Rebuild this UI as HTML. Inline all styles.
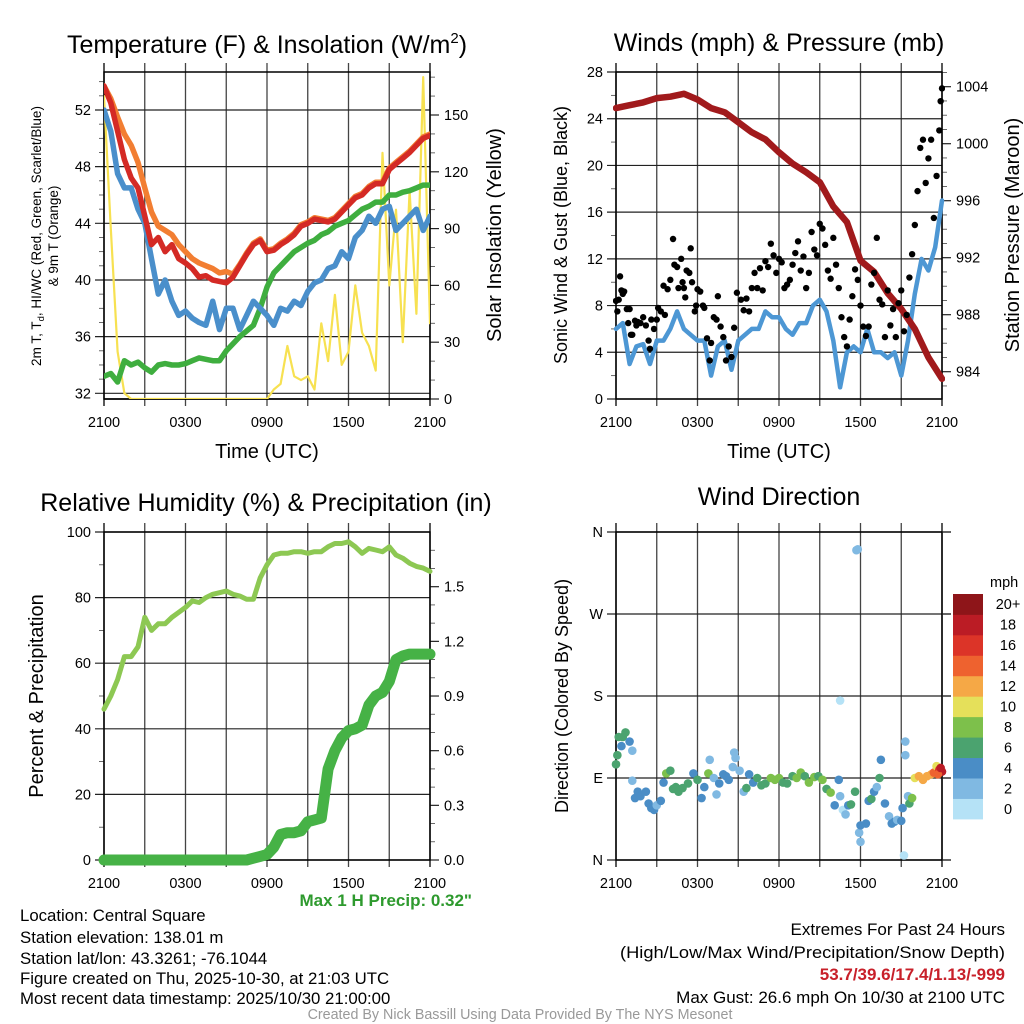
<!DOCTYPE html>
<html><head><meta charset="utf-8"><style>
html,body{margin:0;padding:0;background:#fff;}
svg{display:block;font-family:"Liberation Sans",sans-serif;}
</style></head><body>
<svg id="chart" width="1024" height="1024" viewBox="0 0 1024 1024" xmlns="http://www.w3.org/2000/svg">
<rect width="1024" height="1024" fill="#fff"/>
<g id="p1"></g>
<g id="p2"></g>
<g id="p3"></g>
<g id="p4"></g>
<text x="267" y="53" font-size="25" text-anchor="middle">Temperature (F) &amp; Insolation (W/m<tspan font-size="15" dy="-10">2</tspan><tspan dy="10">)</tspan></text>
<text x="779" y="51" font-size="25" text-anchor="middle">Winds (mph) &amp; Pressure (mb)</text>
<text x="266" y="511" font-size="25" text-anchor="middle">Relative Humidity (%) &amp; Precipitation (in)</text>
<text x="779" y="505" font-size="25" text-anchor="middle">Wind Direction</text>
<text x="267" y="458" font-size="20" text-anchor="middle">Time (UTC)</text>
<text x="779" y="458" font-size="20" text-anchor="middle">Time (UTC)</text>
<text font-size="13.5" text-anchor="middle" transform="translate(41,236) rotate(-90)">2m T, T<tspan font-size="9.5" dy="3">d</tspan><tspan dy="-3">, HI/WC (Red, Green, Scarlet/Blue)</tspan></text>
<text font-size="13.5" text-anchor="middle" transform="translate(58,236) rotate(-90)">&amp; 9m T (Orange)</text>
<text font-size="20" text-anchor="middle" transform="translate(501,235) rotate(-90)">Solar Insolation (Yellow)</text>
<text font-size="18" text-anchor="middle" transform="translate(567,235) rotate(-90)">Sonic Wind &amp; Gust (Blue, Black)</text>
<text font-size="20" text-anchor="middle" transform="translate(1019,235) rotate(-90)">Station Pressure (Maroon)</text>
<text font-size="20" text-anchor="middle" transform="translate(43,696) rotate(-90)">Percent &amp; Precipitation</text>
<text font-size="18" text-anchor="middle" transform="translate(568,696) rotate(-90)">Direction (Colored By Speed)</text>
<text x="472" y="906" font-size="17" font-weight="bold" fill="#2e9a2e" text-anchor="end">Max 1 H Precip: 0.32"</text>
<g font-size="16.8">
<text x="20" y="921">Location: Central Square</text>
<text x="20" y="943">Station elevation: 138.01 m</text>
<text x="20" y="964">Station lat/lon: 43.3261; -76.1044</text>
<text x="20" y="984">Figure created on Thu, 2025-10-30, at 21:03 UTC</text>
<text x="20" y="1004">Most recent data timestamp: 2025/10/30 21:00:00</text>
</g>
<g font-size="17" text-anchor="end">
<text x="1005" y="935">Extremes For Past 24 Hours</text>
<text x="1005" y="958" textLength="385" lengthAdjust="spacingAndGlyphs" x-start="620">(High/Low/Max Wind/Precipitation/Snow Depth)</text>
<text x="1005" y="980" font-weight="bold" fill="#c8202a">53.7/39.6/17.4/1.13/-999</text>
<text x="1005" y="1003">Max Gust: 26.6 mph On 10/30 at 2100 UTC</text>
</g>
<text x="520" y="1019" font-size="14.3" fill="#999" text-anchor="middle">Created By Nick Bassill Using Data Provided By The NYS Mesonet</text>
</svg>
<script>
const halfHours = [0,0.5,1,1.5,2,2.5,3,3.5,4,4.5,5,5.5,6,6.5,7,7.5,8,8.5,9,9.5,10,10.5,11,11.5,12,12.5,13,13.5,14,14.5,15,15.5,16,16.5,17,17.5,18,18.5,19,19.5,20,20.5,21,21.5,22,22.5,23,23.5,24];
const tempRed = [53.7,52.5,50.5,48.5,47.2,46.5,44.5,42.5,43,42,42.5,41.5,41.2,40.8,40.2,40.3,40,39.9,39.8,40.2,41,41.8,42.5,42.8,42,42.1,42.5,42.8,43.2,43.8,44,44.3,44.2,44.1,44.3,44.8,45.3,45.8,46,46.5,46.8,46.8,47.8,48.2,48.6,49,49.5,50,50.2];
const temp9m = [53.7,52.8,51.5,50.3,49.5,48.3,46.5,44.8,43.8,43.5,43.2,42.5,42,41.5,41.2,41,40.8,40.5,40.6,40.4,41.1,41.9,42.6,42.9,42.1,42.2,42.6,42.9,43.3,43.9,44.1,44.4,44.3,44.2,44.4,44.9,45.4,45.9,46.1,46.6,46.9,46.9,47.9,48.3,48.7,49.1,49.6,50.1,50.3];
const windChill = [52,50.5,47.5,46.5,46.5,45,44,41.5,39,40,38.5,37.5,37.8,37.3,37,36.8,38.5,36.5,38,38,36.5,37.5,38.5,38,37.5,36.8,38,37.8,38.5,38.2,39.2,39.8,40,40.8,41,42,41.5,43,43.5,44.5,44,45,45.2,43.5,44,44.5,45,43.5,44.5];
const dewPoint = [33.2,33.4,32.8,34.3,34,34.2,33.8,33.5,34,34.1,34,34,34.1,34.3,34.5,34.4,34.3,34.3,35,35.5,36,36.4,36.8,38,39.5,40.5,41,41.5,42,42.3,42.6,42.8,43.2,43.4,43.8,44,44.2,44.6,45,45.2,45.5,45.5,46,46,46.2,46.3,46.5,46.7,46.7];
const insolation = [160,90,25,3,0,0,0,0,0,0,0,0,0,0,0,0,0,0,0,0,0,0,0,0,0,5,8,28,12,10,12,5,40,20,55,18,25,60,35,28,15,130,60,100,30,110,45,170,40];
const windSpeed = [6,6.5,3,4.5,4.7,3,5,5,6,7.5,6,5.5,5,5,2,4.5,5,2.5,5,5.5,6,6,7.5,7,7,6,5.5,6.5,6.5,8,8.5,7.5,5,1,4,4.5,4,6,4,4,3.5,4,2,5,9,12,11,13,17];
const relHumidity = [46,50,55,62,62,65,74,70,72,72,74,75.5,77,79,78.5,80,81,81.5,82,81,80.5,79.5,79.5,86,90,93,93.5,93.5,94,94,93.5,94,94,95.5,96.5,96.5,97,95.5,93.5,95,94.5,94,95.5,93,92,90.5,89.5,89,88];
const precipTotal = [0,0,0,0,0,0,0,0,0,0,0,0,0,0,0,0,0,0,0,0,0,0,0.01,0.02,0.03,0.07,0.14,0.15,0.15,0.16,0.21,0.22,0.23,0.5,0.6,0.67,0.71,0.72,0.74,0.85,0.9,0.92,0.98,1.1,1.12,1.13,1.13,1.13,1.13];
const hourly = [0,1,2,3,4,5,6,7,8,9,10,11,12,13,14,15,16,17,18,19,20,21,22,23,24];
const pressure = [1002.5,1002.7,1002.9,1003.2,1003.3,1003.5,1003.1,1002.5,1002.2,1001.5,1000.8,1000.3,999.4,998.6,998.0,997.3,995.6,994.5,991.8,991.0,989.5,988.4,987.0,985.0,983.5];
const gustHours = [0,0.1,0.2,0.3,0.4,0.5,0.6,0.8,0.9,1.0,1.1,1.2,1.4,1.5,1.6,1.8,2.0,2.2,2.4,2.5,2.6,2.8,3.0,3.1,3.3,3.5,3.6,3.8,4.0,4.2,4.3,4.5,4.6,4.8,4.9,5.0,5.1,5.2,5.4,5.5,5.6,5.8,5.9,6.0,6.2,6.4,6.5,6.7,6.9,7.0,7.2,7.4,7.5,7.7,7.9,8.1,8.3,8.5,8.7,8.9,9.2,9.4,9.6,9.8,10,10.2,10.4,10.6,10.8,11,11.2,11.4,11.6,11.8,12,12.2,12.4,12.6,12.8,13,13.2,13.4,13.6,13.8,14,14.2,14.4,14.6,14.8,15,15.2,15.4,15.6,15.8,16,16.2,16.4,16.6,16.8,17,17.2,17.4,17.6,17.8,18,18.2,18.4,18.6,18.8,19.0,19.2,19.4,19.6,19.8,20,20.2,20.4,20.6,20.8,21,21.2,21.4,21.6,21.8,22,22.2,22.4,22.6,22.8,23,23.2,23.4,23.6,23.8,23.9,24];
const gustValues = [8.4,7.5,8.5,10.5,9.3,9,9.2,7.7,6.5,7.7,5.5,5.5,6.7,6.3,6.6,6.5,7,6.3,5,4.3,6.8,6,6.8,7.8,7.5,9.7,7.2,9.4,10.2,13.7,11.5,11.3,9.5,12,10,9.5,8.7,11,10.8,12.9,10,7.5,8,9.4,9.2,8,7.8,5.2,3.3,4.8,7,6.8,8.8,6.2,5.3,3.3,4.5,3.6,6.1,9.1,8.5,7.6,8.6,7.5,9.5,10.8,9.5,11.2,9.3,11.8,11.3,13.3,12.3,10.8,12,11.7,9.5,9.8,10.2,11.5,12.5,13.5,11,12.2,9.5,10.8,14.3,12.8,12.3,15,14.6,13.2,11,10.3,13.8,11.5,9.5,7,5.3,4.5,6.8,8.8,11.1,10.2,8,6.2,5.4,6.2,9.8,10.8,13.8,8.5,8.1,5.3,9.3,6.3,7.7,5.3,8.2,9.3,5.8,7.2,10.4,12.4,14.9,17.8,21.5,22.2,18.5,20.6,22.2,15.5,19.1,23,25.5,26.6];
const dirHours = [0,0.1,0.2,0.5,0.7,0.4,1.0,1.2,1.2,1.4,1.6,1.8,2.2,2.4,2.6,2.8,3.0,3.3,3.5,3.7,4.0,4.2,4.4,4.6,4.9,5.3,5.7,6.0,6.3,6.5,6.8,6.9,7.2,7.4,7.6,7.9,8.1,8.3,8.6,8.7,8.8,9.1,9.4,9.6,9.8,10.1,10.4,10.7,11.0,11.4,11.7,12.0,12.3,12.6,13.0,13.3,13.6,13.9,14.2,14.6,14.9,15.2,15.5,15.8,16.1,16.4,16.5,16.7,16.9,17.1,17.3,17.6,17.9,18.0,18.0,17.7,17.8,16.5,18.4,18.6,18.8,19.0,19.2,19.4,19.5,19.8,20.1,20.3,20.5,20.7,21.0,21.1,21.3,21.3,21.5,21.2,21.6,21.8,22.0,22.3,22.6,22.9,23.2,23.4,23.6,23.8,24,23.7,23.9];
const dirDegrees = [105,115,135,135,140,125,130,120,87,68,75,70,75,62,57,55,60,65,85,95,98,78,80,75,79,84,95,88,68,80,95,110,90,72,84,94,92,88,102,118,112,98,75,79,94,85,90,82,84,90,88,90,85,84,92,90,96,92,85,91,92,88,78,74,60,88,70,55,50,60,61,75,30,38,20,340,341,175,40,65,67,75,80,90,110,62,48,40,42,44,43,57,130,115,70,5,62,68,90,92,88,92,94,96,103,99,97,94,101];
const dirSpeeds = [6,6,6,6,6,4,4,3,2,4,4,4,4,4,4,4,2,4,4,8,6,6,6,6,6,6,4,6,4,4,8,2,2,2,4,4,4,4,2,2,2,2,2,6,4,4,6,6,6,8,8,8,6,6,6,8,8,6,8,8,6,8,6,8,4,4,2,0,2,4,6,6,2,4,2,2,2,0,4,4,6,4,2,6,4,4,2,4,4,2,4,4,2,2,2,0,6,8,10,12,12,12,12,14,10,16,18,14,18];
const timeTicks = ["2100","0300","0900","1500","2100"];
const tempTicks = [32,36,40,44,48,52];
const solarTicks = [0,30,60,90,120,150];
const windTicks = [0,4,8,12,16,20,24,28];
const pressTicks = [984,988,992,996,1000,1004];
const rhTicks = [0,20,40,60,80,100];
const precipTicks = ["0.0","0.3","0.6","0.9","1.2","1.5"];
const dirTicks = ["N","E","S","W","N"];
const speedLabels = ["0","2","4","6","8","10","12","14","16","18","20+"];
const speedColors = ["#b5e2f6","#80b9e2","#4a8dc6","#4ba36f","#7dc04b","#e5e05a","#f5a846","#ee622f","#dc3428","#bb1c25","#8e1519"];

const NS="http://www.w3.org/2000/svg";
function mk(parent,tag,attrs){const e=document.createElementNS(NS,tag);for(const k in attrs)e.setAttribute(k,attrs[k]);parent.appendChild(e);return e;}
function lin(d0,d1,r0,r1){return v=>r0+(v-d0)/(d1-d0)*(r1-r0);}

function frame(g,x0,x1,y0,y1,hgrid,leftTicks,leftVals,rightTicks,rightVals,rightScale,leftScale,minorL,minorR){
  const xs=lin(0,24,x0,x1);
  for(let i=0;i<=8;i++){const x=xs(i*3);
    const l=mk(g,'line',{x1:x,x2:x,y1:y0-9,y2:y1+7,stroke:i==0||i==8?'#000':'#444','stroke-width':1.3});
    
    
  }
  leftVals.forEach((v,i)=>{const y=leftScale(v);
    const l=mk(g,'line',{x1:x0-9,x2:rightTicks?x1:x1+9,y1:y,y2:y,stroke:'#222','stroke-width':1.2});
    
    
    const t=mk(g,'text',{x:x0-13,y:y+5,'font-size':14.5,'text-anchor':'end'});t.textContent=leftTicks[i];
    
    
  });
  if(minorL){minorL.forEach(v=>{const y=leftScale(v);mk(g,'line',{x1:x0-5,x2:x0,y1:y,y2:y,stroke:'#444','stroke-width':0.8});});}
  if(rightTicks){rightVals.forEach((v,i)=>{const y=rightScale(v);
    mk(g,'line',{x1:x1,x2:x1+9,y1:y,y2:y,stroke:'#222','stroke-width':1.2});
    const t=mk(g,'text',{x:x1+14,y:y+5,'font-size':14.5});t.textContent=rightTicks[i];
    
    
  });
  if(minorR){minorR.forEach(v=>{const y=rightScale(v);mk(g,'line',{x1:x1,x2:x1+5,y1:y,y2:y,stroke:'#444','stroke-width':0.8});});}}
  mk(g,'rect',{x:x0,y:y0,width:x1-x0,height:y1-y0,fill:'none',stroke:'#000','stroke-width':1.5});
  timeTicks.forEach((s,i)=>{const t=mk(g,'text',{x:xs(i*6),y:y1+28,'font-size':14.5,'text-anchor':'middle'});t.textContent=s;
    
    });
  return xs;
}
function line(g,xs,ys,hs,vals,color,w,name){
  const d=hs.map((h,i)=>(i?'L':'M')+xs(h).toFixed(1)+','+ys(vals[i]).toFixed(1)).join('');
  const p=mk(g,'path',{d:d,fill:'none',stroke:color,'stroke-width':w,'stroke-linejoin':'round','stroke-linecap':'round'});
  
  
  return p;
}
function range(a,b,s){const r=[];for(let v=a;v<=b+1e-9;v+=s)r.push(+v.toFixed(3));return r;}

// Panel 1
const g1=document.getElementById('p1');
const t1=lin(32,52,393.3,110); const s1=lin(0,150,399,115);
const x1s=frame(g1,104,430,72,399,null,tempTicks,tempTicks,solarTicks,solarTicks,s1,t1,range(33,54,1).filter(v=>v%4),range(10,170,10).filter(v=>v%30));
mk(g1,'line',{x1:104,x2:430,y1:399,y2:399,stroke:'#000','stroke-width':1.5});
mk(mk(g1,'clipPath',{id:'c1'}),'rect',{x:104,y:72,width:326,height:327});
const d1=mk(g1,'g',{'clip-path':'url(#c1)'});
line(d1,x1s,s1,halfHours,insolation,'#f7e151',2.2,'insolation-line');
line(d1,x1s,t1,halfHours,dewPoint,'#3fae3f',5.5,'dewpoint-line');
line(d1,x1s,t1,halfHours,windChill,'#4a8fcb',5.5,'windchill-line');
line(d1,x1s,t1,halfHours,temp9m,'#f27e32',5.5,'temp-9m-line');
line(d1,x1s,t1,halfHours,tempRed,'#d42a25',5.5,'temp-2m-line');

// Panel 2
const g2=document.getElementById('p2');
const w2=lin(0,28,399,72); const p2=lin(984,1004,371.7,86.7);
const x2s=frame(g2,616,942,72,399,null,windTicks,windTicks,pressTicks,pressTicks,p2,w2,range(2,26,4),range(983,1005,1).filter(v=>v%4));
mk(mk(g2,'clipPath',{id:'c2'}),'rect',{x:613,y:69,width:332,height:333});
const d2=mk(g2,'g',{'clip-path':'url(#c2)'});
line(d2,x2s,w2,halfHours,windSpeed,'#4d97d4',4.5,'wind-speed-line');
line(d2,x2s,p2,hourly,pressure,'#a11a1c',6.5,'pressure-line');
gustHours.forEach((h,i)=>{const c=mk(d2,'circle',{cx:x2s(h),cy:w2(gustValues[i]),r:3.2,fill:'#000'});
  
  });

// Panel 3
const g3=document.getElementById('p3');
const r3=lin(0,100,860,532); const q3=lin(0,1.5,860,586.7);
const x3s=frame(g3,104,430,532,860,null,rhTicks,rhTicks,precipTicks,precipTicks.map(Number),q3,r3,range(10,90,20),range(0.1,1.7,0.1).filter(v=>Math.round(v*10)%3));
line(g3,x3s,r3,halfHours,relHumidity,'#8dc853',5,'humidity-line');
line(g3,x3s,q3,halfHours,precipTotal,'#46b246',11,'precip-line');

// Panel 4
const g4=document.getElementById('p4');
const a4=lin(0,360,860,532);
const x4s=frame(g4,616,942,532,860,null,dirTicks,[0,90,180,270,360],null,null,null,a4,null);
[90,180,270,360,0].forEach(v=>mk(g4,'line',{x1:942,x2:951,y1:a4(v),y2:a4(v),stroke:'#222','stroke-width':1.2}));
dirHours.forEach((h,i)=>{const idx=Math.min(10,Math.floor(dirSpeeds[i]/2));
  const c=mk(g4,'circle',{cx:x4s(h),cy:a4(dirDegrees[i]),r:4.3,fill:speedColors[idx]});
  
  });
const cb=mk(g4,'g',{});


const bh=(819-594)/11;
speedColors.forEach((c,i)=>{const y=819-(i+1)*bh;
  const r=mk(cb,'rect',{x:953,y:y,width:30,height:bh+0.4,fill:c});
  
  
  const t=mk(cb,'text',{x:1008,y:y+bh/2+5,'font-size':14.5,'text-anchor':'middle'});t.textContent=speedLabels[i];
  
  });
const mt=mk(cb,'text',{x:990,y:587,'font-size':14.5});mt.textContent='mph';


</script>
</body></html>
